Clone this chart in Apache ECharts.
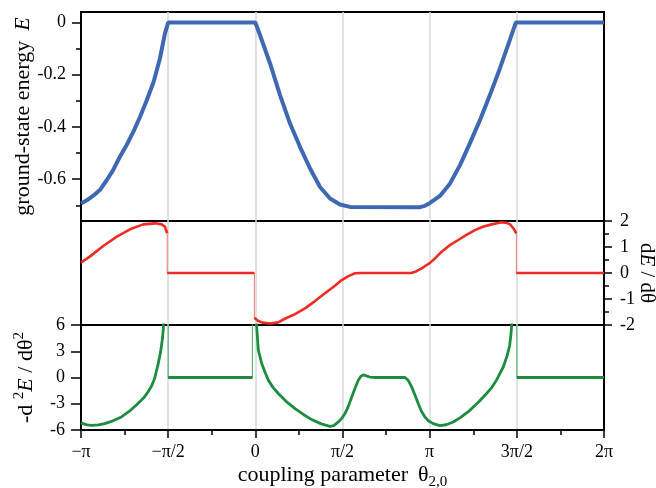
<!DOCTYPE html>
<html><head><meta charset="utf-8">
<script src="https://cdn.jsdelivr.net/npm/echarts@6/dist/echarts.min.js"></script>
<style>html,body{margin:0;padding:0;background:#fff}#c{width:656px;height:488px}</style>
</head><body><div id="c"></div>
<script>
// theta in degrees (-180 = -pi ... 360 = 2pi)
const thetaE = [-180,-174,-167,-160,-153.5,-147,-140,-133,-126,-119,-112,-105,-98.5,-93.3,-90,0,4.8,15.2,25.5,35.8,46.1,56.5,66.8,77.1,87.4,97.7,170,175,180,190.6,200.9,211.2,221.5,231.9,242.2,252.5,262.8,269,360];
const energy = [-0.693,-0.681,-0.662,-0.639,-0.604,-0.566,-0.515,-0.470,-0.419,-0.361,-0.297,-0.227,-0.138,-0.042,0,0,-0.048,-0.157,-0.278,-0.387,-0.476,-0.559,-0.630,-0.674,-0.697,-0.706,-0.707,-0.702,-0.692,-0.664,-0.617,-0.547,-0.463,-0.374,-0.278,-0.176,-0.067,0,0];

const thetaD = [-180,-171,-157,-143,-129.4,-115.7,-103.6,-96.7,-93.3,-91,-91,-1,-1,0,3,8,15,23.7,31,41,51.3,61.6,71.9,82.2,89.2,96,103,110,161,166,171.7,175,180,185.5,192.4,200,209.5,218,226.7,235,244,254.3,260,263,266.4,269.5,269.5,360];
const dEdTheta = [0.40,0.63,1.04,1.40,1.68,1.87,1.91,1.87,1.78,1.53,0,0,-1.72,-1.76,-1.85,-1.91,-1.94,-1.90,-1.75,-1.58,-1.36,-1.08,-0.78,-0.49,-0.27,-0.12,-0.01,0,0,0.06,0.18,0.26,0.38,0.56,0.82,1.05,1.27,1.47,1.65,1.78,1.87,1.95,1.92,1.87,1.72,1.53,0,0];

const thetaC = [-180,-174,-169,-162,-155.5,-147,-138.3,-130,-121.2,-115,-110.9,-107,-104,-100.6,-97.8,-95.8,-95,-94.5,-93,-90,-90,-3,-3,1,1.4,3.1,6.6,10,13.4,18,23.7,32,41,50,58.2,68,77.1,81,85.7,89,92.6,96,99.5,103,106.3,109,111.5,114,118,125,154.5,158,161.4,165,168.2,171.5,175.1,179,183.7,190.6,197,204.4,212,221.5,230,238.8,244,249,256,260,262.5,264,265,266,270,270,360];
const curvature = [-5.18,-5.42,-5.48,-5.42,-5.27,-4.95,-4.51,-3.85,-2.98,-2.30,-1.65,-0.95,-0.11,1.41,2.93,4.54,5.61,7,12,12,0,0,12,12,5.8,3.13,1.6,0.6,-0.3,-1.1,-1.83,-2.75,-3.55,-4.25,-4.81,-5.30,-5.58,-5.50,-5.08,-4.70,-4.12,-3.30,-2.22,-1.20,-0.31,0.15,0.30,0.22,0.05,0,0,-0.35,-1.07,-2.05,-2.98,-3.85,-4.51,-4.98,-5.27,-5.50,-5.40,-5.08,-4.55,-3.75,-2.85,-1.83,-1.15,-0.31,1.2,2.5,3.6,5.0,6.5,12,12,0,0];

const xTickLabels = {'-180':'−π','-90':'−π/2','0':'0','90':'π/2','180':'π','270':'3π/2','360':'2π'};
const eTickValues = [0,-0.2,-0.4,-0.6];
const eMinorTickValues = [-0.1,-0.3,-0.5,-0.7];

const FONT = 'Liberation Serif';
function pairs(xs, ys){ return xs.map((x,i)=>[x, ys[i]]); }
function thickPairs(xs, ys){
  const out = [];
  for (let i=0;i<xs.length;i++){
    if (i>0 && xs[i]===xs[i-1]) out.push([xs[i],'-']);
    out.push([xs[i], ys[i]]);
  }
  return out;
}
const black = '#000';
const gridCommon = {left:81, right:52, show:true, borderColor:black, borderWidth:2, backgroundColor:'transparent', outerBoundsMode:'none', containLabel:false};
function hiddenX(gi){
  return {type:'value', gridIndex:gi, min:-180, max:360, interval:90,
    axisLine:{show:false, onZero:false}, axisTick:{show:false}, axisLabel:{show:false},
    splitLine:{show:true, showMinLine:false, showMaxLine:false, lineStyle:{color:'#d8d8d8', width:1.5}}};
}
const labelStyle = {fontFamily:FONT, fontSize:18, color:black};

const chart = echarts.init(document.getElementById('c'), null, {renderer:'canvas'});
chart.setOption({
  animation:false,
  backgroundColor:'#fff',
  grid:[
    Object.assign({top:12, height:209}, gridCommon),
    Object.assign({top:221, height:104}, gridCommon),
    Object.assign({top:325, height:105}, gridCommon)
  ],
  xAxis:[
    hiddenX(0), hiddenX(1),
    {type:'value', gridIndex:2, min:-180, max:360, interval:90,
     axisLine:{show:true, onZero:false, lineStyle:{color:black, width:2}},
     axisTick:{show:true, length:8, lineStyle:{color:black, width:1.5}},
     minorTick:{show:true, splitNumber:2, length:5, lineStyle:{color:black, width:1.5}},
     axisLabel:Object.assign({margin:13, formatter:v=>xTickLabels[String(v)]||''}, labelStyle),
     splitLine:{show:true, showMinLine:false, showMaxLine:false, lineStyle:{color:'#d8d8d8', width:1.5}},
     name:'{n|coupling parameter}   {n|θ}{s|2,0}', nameLocation:'middle', nameGap:30, nameMoveOverlap:false,
     nameTextStyle:{rich:{
       n:{fontFamily:FONT, fontSize:22, color:black, lineHeight:30, verticalAlign:'middle'},
       s:{fontFamily:FONT, fontSize:15, color:black, lineHeight:14, verticalAlign:'bottom'}}}}
  ],
  yAxis:[
    {type:'value', gridIndex:0, position:'left', min:-0.76, max:0.04,
     axisLine:{show:true, onZero:false, lineStyle:{color:black, width:2}},
     axisTick:{show:true, length:9, customValues:eTickValues, lineStyle:{color:black, width:1.5}},
     axisLabel:Object.assign({margin:15, customValues:eTickValues, formatter:v=>(Math.abs(v)<1e-9?'0':v.toFixed(1))}, labelStyle),
     splitLine:{show:false},
     name:'{n|ground-state energy}   {e|E}', nameLocation:'middle', nameRotate:90, nameGap:45, nameMoveOverlap:false,
     nameTextStyle:{rich:{
       n:{fontFamily:FONT, fontSize:22, color:black, lineHeight:26},
       e:{fontFamily:FONT, fontSize:22, fontStyle:'italic', color:black, lineHeight:26}}}},
    {type:'value', gridIndex:0, position:'left', min:-0.76, max:0.04,
     axisLine:{show:false, onZero:false},
     axisTick:{show:true, length:5, customValues:eMinorTickValues, lineStyle:{color:black, width:1.5}},
     axisLabel:{show:false}, splitLine:{show:false}},
    {type:'value', gridIndex:1, position:'right', min:-2, max:2, interval:1,
     axisLine:{show:true, onZero:false, lineStyle:{color:black, width:2}},
     axisTick:{show:true, length:8, lineStyle:{color:black, width:1.5}},
     minorTick:{show:true, splitNumber:2, length:5, lineStyle:{color:black, width:1.5}},
     axisLabel:Object.assign({margin:16}, labelStyle),
     splitLine:{show:false},
     name:'{n|d}{e|E}{n| / dθ}', nameLocation:'middle', nameRotate:-90, nameGap:30, nameMoveOverlap:false,
     nameTextStyle:{rich:{
       n:{fontFamily:FONT, fontSize:21, color:black, lineHeight:26},
       e:{fontFamily:FONT, fontSize:21, fontStyle:'italic', color:black, lineHeight:26}}}},
    {type:'value', gridIndex:2, position:'left', min:-6, max:6, interval:3,
     axisLine:{show:true, onZero:false, lineStyle:{color:black, width:2}},
     axisTick:{show:true, length:10, lineStyle:{color:black, width:1.5}},
     axisLabel:Object.assign({margin:16}, labelStyle),
     splitLine:{show:false},
     name:'{n|-d }{s|2}{e|E}{n| / dθ}{s|2}', nameLocation:'middle', nameRotate:90, nameGap:41, nameMoveOverlap:false,
     nameTextStyle:{rich:{
       n:{fontFamily:FONT, fontSize:22, color:black, lineHeight:28, verticalAlign:'middle'},
       e:{fontFamily:FONT, fontSize:22, fontStyle:'italic', color:black, lineHeight:28, verticalAlign:'middle'},
       s:{fontFamily:FONT, fontSize:15, color:black, lineHeight:14, verticalAlign:'top'}}}}
  ],
  series:[
    {type:'line', xAxisIndex:0, yAxisIndex:0, data:pairs(thetaE, energy), showSymbol:false,
     lineStyle:{color:'#3e68b2', width:4}, z:3},
    {type:'line', xAxisIndex:1, yAxisIndex:2, data:pairs(thetaD, dEdTheta), showSymbol:false,
     lineStyle:{color:'#f07a76', width:1}, z:2},
    {type:'line', xAxisIndex:1, yAxisIndex:2, data:thickPairs(thetaD, dEdTheta), showSymbol:false,
     connectNulls:false, lineStyle:{color:'#ee2b25', width:2.6}, z:3},
    {type:'line', xAxisIndex:2, yAxisIndex:3, data:pairs(thetaC, curvature), showSymbol:false,
     lineStyle:{color:'#5fb47a', width:1.2}, z:2},
    {type:'line', xAxisIndex:2, yAxisIndex:3, data:thickPairs(thetaC, curvature), showSymbol:false,
     connectNulls:false, lineStyle:{color:'#1d8c41', width:2.8}, z:3}
  ]
});
</script></body></html>
